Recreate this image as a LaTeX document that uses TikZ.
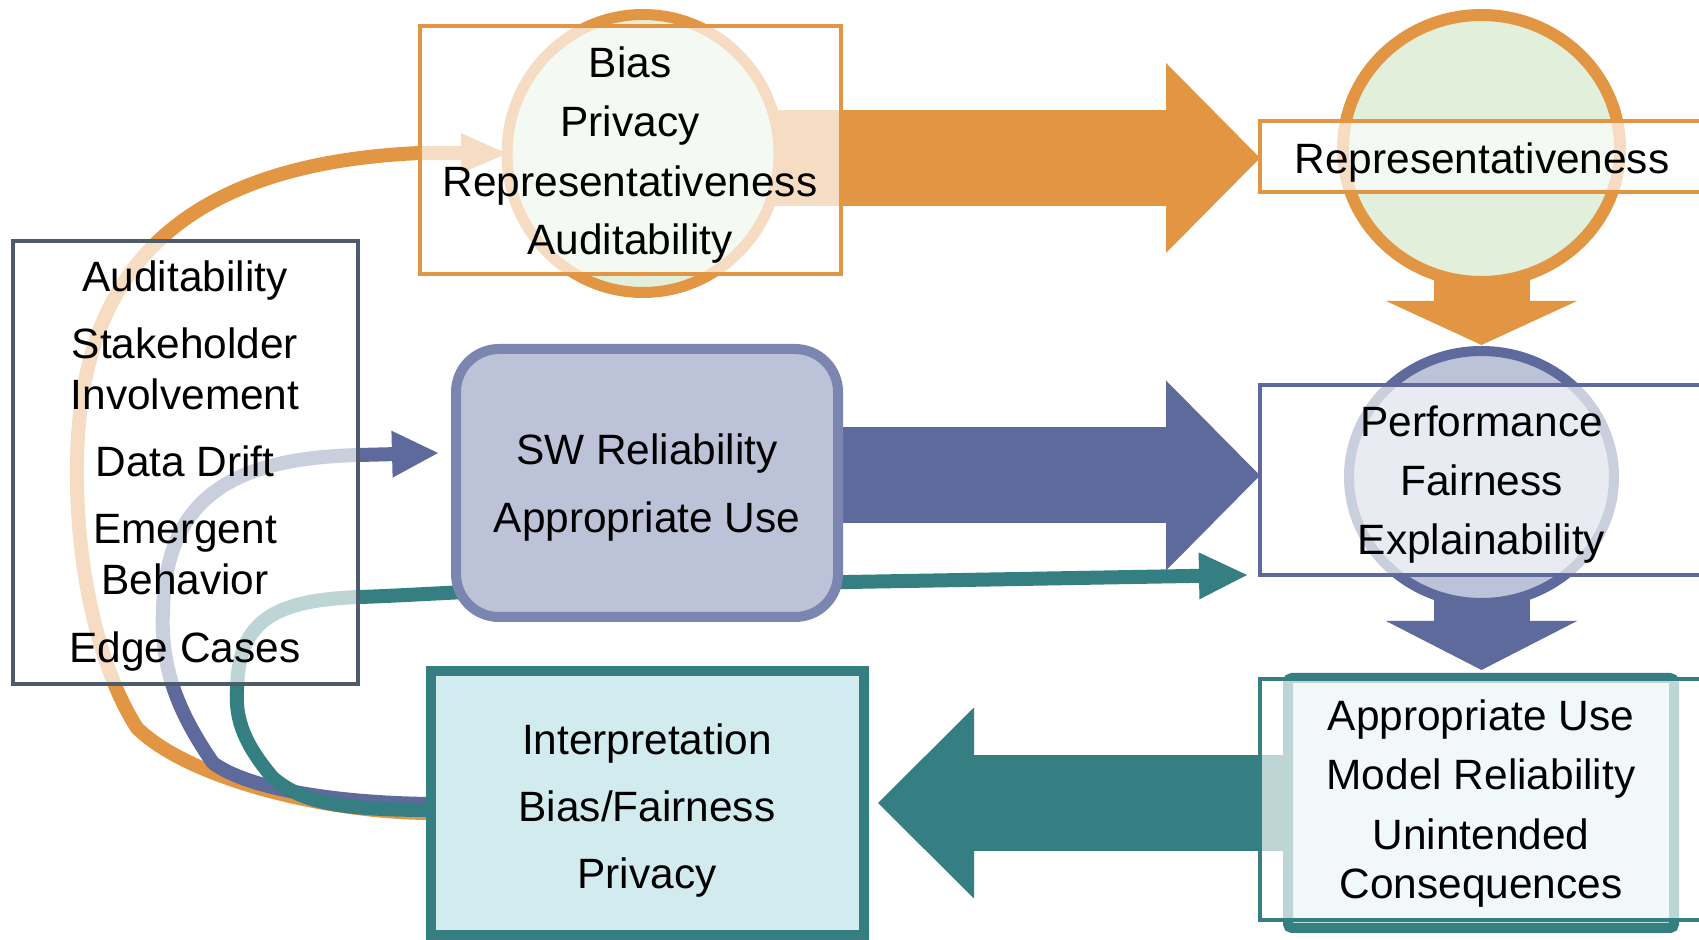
\documentclass[tikz,border=0pt]{standalone}
\usepackage{fontspec}
\setmainfont{Liberation Sans}
\usetikzlibrary{shapes.geometric,arrows.meta}

\definecolor{amber}{RGB}{226,149,66}
\definecolor{sage}{RGB}{226,239,218}
\definecolor{indigo}{RGB}{93,106,155}
\definecolor{swline}{RGB}{122,134,175}
\definecolor{swfill}{RGB}{188,194,216}
\definecolor{tealc}{RGB}{53,126,130}
\definecolor{tealfill}{RGB}{210,235,238}
\definecolor{slate}{RGB}{77,91,106}

\pgfdeclarelayer{flows}
\pgfdeclarelayer{shapes}
\pgfsetlayers{flows,shapes,main}

\tikzset{
  wash/.style={rectangle, fill=white, fill opacity=0.68, inner sep=0pt, outer sep=0pt},
  solidbox/.style={rectangle, inner sep=0pt, outer sep=0pt},
  ring/.style={ellipse, inner sep=0pt, outer sep=0pt},
  lbl/.style={anchor=base, inner sep=0pt, outer sep=0pt, yshift=-1pt,
              font=\fontsize{21.2pt}{25pt}\selectfont},
  flow/.style={line width=7pt, line cap=butt, line join=round},
  block/.style={line width=48pt, line cap=butt},
}

\begin{document}
\begin{tikzpicture}[x=0.5pt,y=-0.5pt]
\useasboundingbox (0,0) rectangle (1699,940);

% ---------- filled shapes ----------
\begin{pgfonlayer}{shapes}
  \node[ring, draw=amber, fill=sage, line width=5.5pt,
        minimum width=136pt, minimum height=139pt] (c1) at (643,153.5) {};
  \node[ring, draw=amber, fill=sage, line width=6pt,
        minimum width=138.5pt, minimum height=133.5pt] (c2) at (1481.5,148.5) {};
  \node[ring, draw=indigo, fill=swfill, line width=5pt,
        minimum width=132.5pt, minimum height=126pt] (pring) at (1481.5,477) {};
  \node[solidbox, draw=swline, fill=swfill, line width=5pt, rounded corners=21.5pt,
        minimum width=191pt, minimum height=134pt] (sw) at (647,483) {};
  \node[solidbox, draw=tealc, fill=tealfill, line width=5pt, rounded corners=2pt,
        minimum width=193pt, minimum height=125pt] (inner) at (1481,803) {};
  \node[solidbox, draw=tealc, fill=tealfill, line width=5pt,
        minimum width=216.5pt, minimum height=132pt] (interp) at (647.5,803) {};
\end{pgfonlayer}

% ---------- translucent frames ----------
\node[wash, draw=amber, line width=2pt,
      minimum width=210.5pt, minimum height=124pt] (boxA) at (630.5,150) {};
\node[wash, draw=slate, line width=2.25pt,
      minimum width=172.5pt, minimum height=221.5pt] (leftbox) at (185.5,462.5) {};
\node[wash, draw=amber, line width=2pt,
      minimum width=250pt, minimum height=35.5pt] (reprect) at (1510,156.5) {};
\node[wash, draw=indigo, line width=2pt,
      minimum width=250pt, minimum height=95pt] (perfrect) at (1510,480) {};
\node[wash, draw=tealc, line width=2pt,
      minimum width=250pt, minimum height=120.5pt] (outer) at (1510,799.5) {};

% ---------- arrow end points ----------
\coordinate (ot)  at ([yshift=-0.75pt]reprect.west);
\coordinate (bt)  at ([yshift=2.25pt]perfrect.west);
\coordinate (tt)  at ([xshift=7pt]interp.east);
\coordinate (odt) at ([yshift=3pt]pring.north);
\coordinate (bdt) at ([yshift=4pt]inner.north);
\coordinate (bct) at ([xshift=-9pt,yshift=15pt]sw.west);
\coordinate (tct) at ([xshift=-6.5pt]perfrect.south west);

% ---------- connectors ----------
\begin{pgfonlayer}{flows}
  \fill[white] (0,0) rectangle (1699,940);

  % block arrows
  \draw[block, amber, -{Triangle[length=47pt,width=95pt,line width=0pt]}]
    (c1.center |- ot) -- (ot);
  \draw[block, indigo, -{Triangle[length=47pt,width=95pt,line width=0pt]}]
    (sw.center |- bt) -- (bt);
  \draw[block, tealc, -{Triangle[length=48pt,width=95.5pt,line width=0pt]}]
    (inner.center |- tt) -- (tt);
  \draw[block, amber, -{Triangle[length=22pt,width=95.5pt,line width=0pt]}]
    (c2.center) -- (odt);
  \draw[block, indigo, -{Triangle[length=24.5pt,width=95.5pt,line width=0pt]}]
    (pring.center) -- (pring.center |- bdt);

  % feedback loops
  \draw[flow, amber, -{Triangle[length=23pt,width=20pt,line width=0pt]}]
    ([yshift=-5pt]interp.west) .. controls (330,813) and (190,780) .. (137,728)
    .. controls (100,670) and (75,570) .. (77,460)
    .. controls (80,300) and (150,165) .. (420,153) -- (c1.west);
  \draw[flow, indigo, -{Triangle[length=23pt,width=23.5pt,line width=0pt]}]
    ([yshift=-0.5pt]interp.west) .. controls (340,803) and (250,790) .. (213,763)
    .. controls (180,715) and (160,670) .. (163,610)
    .. controls (166,500) and (230,458) .. (359,455) -- (bct);
  \draw[flow, tealc, -{Triangle[length=24pt,width=23.5pt,line width=0pt]}]
    ([yshift=-3.5pt]interp.west) .. controls (330,810) and (300,800) .. (273,778)
    .. controls (245,745) and (235,720) .. (237,690)
    .. controls (238,620) and (275,600) .. (360,597)
    .. controls (420,595) and (500,589) .. (620,586) -- (tct);
\end{pgfonlayer}

% ---------- labels ----------
\node[lbl] (a1) at (630,76)  {Bias};
\node[lbl] (a2) at (630,135) {Privacy};
\node[lbl] (a3) at (630,195) {Representativeness};
\node[lbl] (a4) at (630,253) {Auditability};

\node[lbl] (r1) at (1482,172) {Representativeness};

\node[lbl] (l1) at (185,290) {Auditability};
\node[lbl] (l2) at (185,357) {Stakeholder};
\node[lbl] (l3) at (185,408) {Involvement};
\node[lbl] (l4) at (185,475) {Data Drift};
\node[lbl] (l5) at (185,542) {Emergent};
\node[lbl] (l6) at (185,593) {Behavior};
\node[lbl] (l7) at (185,661) {Edge Cases};

\node[lbl] (s1) at (647,463) {SW Reliability};
\node[lbl] (s2) at (647,531) {Appropriate Use};

\node[lbl] (p1) at (1481.5,435) {Performance};
\node[lbl] (p2) at (1481.5,494) {Fairness};
\node[lbl] (p3) at (1481.5,553) {Explainability};

\node[lbl] (i1) at (647,753) {Interpretation};
\node[lbl] (i2) at (647,820) {Bias/Fairness};
\node[lbl] (i3) at (647,887) {Privacy};

\node[lbl] (m1) at (1481,729) {Appropriate Use};
\node[lbl] (m2) at (1481,788) {Model Reliability};
\node[lbl] (m3) at (1481,847) {Unintended};
\node[lbl] (m4) at (1481,897) {Consequences};
\end{tikzpicture}
\end{document}
